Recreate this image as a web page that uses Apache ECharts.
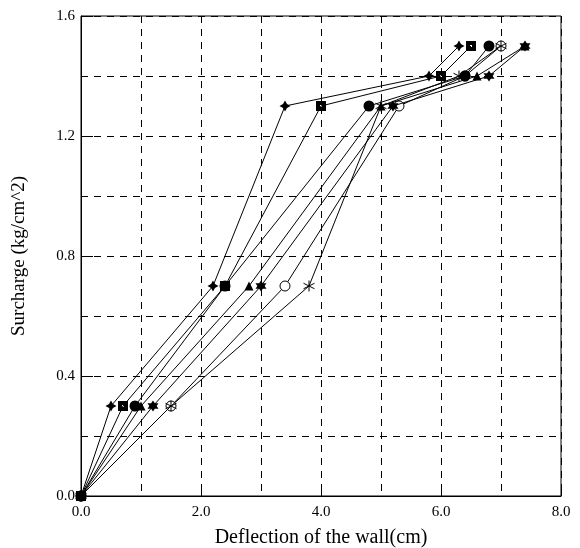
<!DOCTYPE html>
<html><head><meta charset="utf-8">
<script src="https://cdn.jsdelivr.net/npm/echarts@6/dist/echarts.min.js"></script>
<style>html,body{margin:0;padding:0;background:#fff}#c{width:580px;height:548px}</style>
</head><body><div id="c"></div>
<script>
// Surcharge levels (kg/cm^2)
const surcharge = [0, 0.3, 0.7, 1.3, 1.4, 1.5];
// Deflection of the wall (cm) per series
const deflA = [0, 0.5, 2.2, 3.4, 5.8, 6.3]; // cross-diamond
const deflB = [0, 0.7, 2.4, 4.0, 6.0, 6.5]; // square
const deflC = [0, 0.9, 2.4, 4.8, 6.4, 6.8]; // filled circle
const deflD = [0, 1.0, 2.8, 5.0, 6.6, 7.4]; // triangle
const deflE = [0, 1.2, 3.0, 5.2, 6.8, 7.4]; // star
const deflF = [0, 1.5, 3.4, 5.3, 6.4, 7.0]; // open circle
const deflG = [0, 1.5, 3.8, 5.0, 6.3, 7.0]; // asterisk
const xTicks = ['0.0', '2.0', '4.0', '6.0', '8.0'];
const yTicks = ['0.0', '0.4', '0.8', '1.2', '1.6'];

const FONT = 'Liberation Serif';
const sym = {
  crossDiamond: 'path://M5 0L6.8 3.2L10 5L6.8 6.8L5 10L3.2 6.8L0 5L3.2 3.2Z',
  squareDot: 'path://M0 0L10 0L10 10L0 10Z M4 4L4 6L6 6L6 4Z',
  star6: 'path://M5 0L6.44 2.5L9.33 2.5L7.89 5L9.33 7.5L6.44 7.5L5 10L3.56 7.5L0.67 7.5L2.11 5L0.67 2.5L3.56 2.5Z',
  asterisk: 'path://M5 0L5 10M0.7 2.5L9.3 7.5M0.7 7.5L9.3 2.5'
};
function mk(d){ return d.map((x,i)=>[x, surcharge[i]]); }
const base = {type:'line', lineStyle:{color:'#000', width:1}, itemStyle:{color:'#000'}, symbolSize:9, animation:false};
// drawing order: later series on top
const series = [
  Object.assign({}, base, {name:'F', data:mk(deflF), symbol:'circle', symbolSize:10, z:2,
    itemStyle:{color:'#fff', borderColor:'#000', borderWidth:1}}),
  Object.assign({}, base, {name:'D', data:mk(deflD), symbol:'triangle', symbolSize:9, z:3}),
  Object.assign({}, base, {name:'G', data:mk(deflG), symbol:sym.asterisk, symbolSize:11, z:4,
    itemStyle:{color:'rgba(0,0,0,0)', borderColor:'#000', borderWidth:1}}),
  Object.assign({}, base, {name:'E', data:mk(deflE), symbol:sym.star6, symbolSize:11, z:5}),
  Object.assign({}, base, {name:'A', data:mk(deflA), symbol:sym.crossDiamond, symbolSize:11, z:6}),
  Object.assign({}, base, {name:'C', data:mk(deflC), symbol:'circle', symbolSize:11, z:7}),
  Object.assign({}, base, {name:'B', data:mk(deflB), symbol:sym.squareDot, symbolSize:10, z:8})
];
const chart = echarts.init(document.getElementById('c'));
const dash = {color:'#000', width:1, type:[7,6]};
chart.setOption({
  animation:false,
  grid:{left:81, right:19, top:16, bottom:52, show:true, borderColor:'#000', borderWidth:1,
    outerBoundsMode:'none', containLabel:false},
  xAxis:{type:'value', min:0, max:8, interval:2,
    name:'Deflection of the wall(cm)', nameLocation:'middle', nameGap:32,
    nameTextStyle:{fontFamily:FONT, fontSize:20, color:'#000'},
    axisLine:{lineStyle:{color:'#000'}},
    axisTick:{show:true, inside:true, length:12, lineStyle:{color:'#000'}},
    axisLabel:{fontFamily:FONT, fontSize:15, color:'#000', margin:9,
      formatter:(v)=>xTicks[Math.round(v/2)] || ''},
    splitLine:{show:true, lineStyle:dash},
    minorTick:{show:false, splitNumber:2},
    minorSplitLine:{show:true, lineStyle:dash}
  },
  yAxis:{type:'value', min:0, max:1.6, interval:0.4,
    name:'Surcharge (kg/cm^2)', nameLocation:'middle', nameGap:52,
    nameTextStyle:{fontFamily:FONT, fontSize:19, color:'#000'},
    axisLine:{lineStyle:{color:'#000'}},
    axisTick:{show:true, inside:true, length:12, lineStyle:{color:'#000'}},
    axisLabel:{fontFamily:FONT, fontSize:15, color:'#000', margin:6,
      formatter:(v)=>yTicks[Math.round(v/0.4)] || ''},
    splitLine:{show:true, lineStyle:dash},
    minorTick:{show:false, splitNumber:2},
    minorSplitLine:{show:true, lineStyle:dash}
  },
  series: series
});
</script></body></html>
